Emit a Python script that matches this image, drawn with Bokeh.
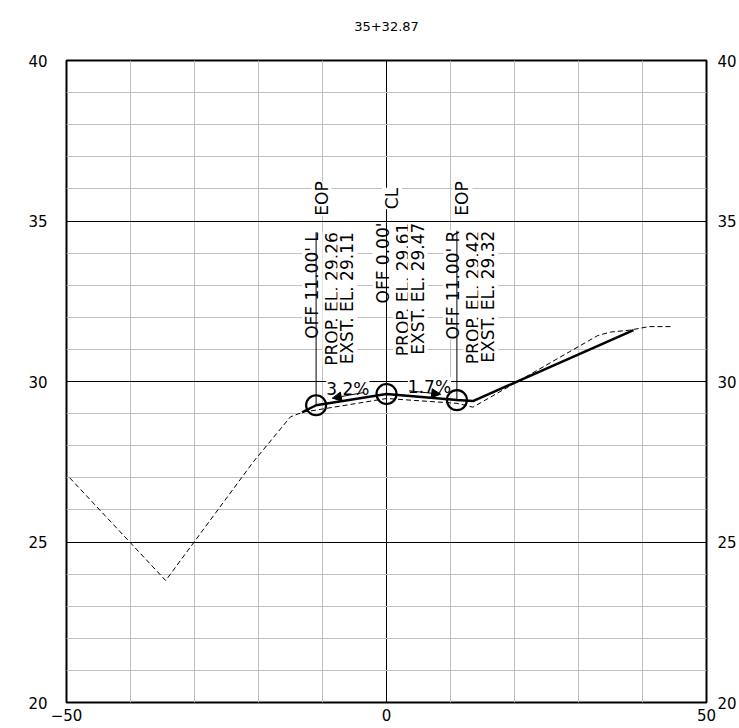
import numpy as np
from bokeh.plotting import figure
from bokeh.models import FixedTicker, LinearAxis, Arrow, NormalHead, Range1d, Title
from bokeh.core.properties import value
from bokeh.embed import file_html
from bokeh.resources import INLINE

# ---------------- data ----------------
title_text = "35+32.87"
x_ticks = [-50, 0, 50]
x_minor = [-40, -30, -20, -10, 10, 20, 30, 40]
y_ticks = [20, 25, 30, 35, 40]
y_minor = [v for v in range(21, 40) if v % 5 != 0]

# existing ground (dashed)
exg_x = [-49.5, -34.5, -20.8, -15.0, -13.0, -11.0, 0.0, 11.0, 13.5, 33.0, 35.0, 38.0, 41.0, 44.5]
exg_y = [27.0, 23.8, 27.5, 28.9, 29.05, 29.11, 29.47, 29.32, 29.2, 31.43, 31.54, 31.6, 31.71, 31.71]

# proposed section (solid)
prop_x = [-13.2, -11.0, 0.0, 11.0, 13.5, 38.6]
prop_y = [29.04, 29.26, 29.61, 29.42, 29.39, 31.6]

# labelled stations
sta_names = ["EOP", "CL", "EOP"]
sta_off = [-11.0, 0.0, 11.0]
sta_side = ["L", "", "R"]
sta_prop = [29.26, 29.61, 29.42]
sta_exst = [29.11, 29.47, 29.32]

# ---------------- style / layout ----------------
FONT = value("DejaVu Sans")
PX = 100.0 / 644.0          # data units per screen px (x)
label_top = [34.65, 34.95, 34.70]
name_y = 35.7
slope_frac = [0.55, 0.61]
GRID_GRAY = "#c0c0c0"
FS = "17px"

p = figure(width=739, height=726, x_range=Range1d(-50, 50), y_range=Range1d(20, 40),
           output_backend="svg", toolbar_location=None, title=None,
           min_border_left=66, min_border_right=29, min_border_top=60, min_border_bottom=24)
p.background_fill_color = "white"
p.border_fill_color = "white"
p.outline_line_color = "black"
p.outline_line_width = 2

# spacer between frame and title, then the title itself (further out)
p.add_layout(Title(text=" ", text_font_size="13px", standoff=13), "above")
p.add_layout(Title(text=title_text, align="center", vertical_align="bottom", standoff=0,
                   text_font="DejaVu Sans", text_font_size="13px", text_font_style="normal",
                   text_color="black"), "above")

xt = FixedTicker(ticks=x_ticks, minor_ticks=x_minor)
yt = FixedTicker(ticks=y_ticks, minor_ticks=y_minor)
p.xaxis.ticker = xt
p.yaxis.ticker = yt
p.xgrid.ticker = xt
p.ygrid.ticker = yt
for g in (p.xgrid, p.ygrid):
    g.grid_line_color = "black"
    g.grid_line_width = 1
    g.minor_grid_line_color = GRID_GRAY
    g.minor_grid_line_width = 1

raxis = LinearAxis(ticker=FixedTicker(ticks=y_ticks))
p.add_layout(raxis, "right")

for ax in [p.xaxis[0], p.yaxis[0], raxis]:
    ax.axis_line_color = None
    ax.major_tick_line_color = None
    ax.minor_tick_line_color = None
    ax.major_tick_out = 0
    ax.major_tick_in = 0
    ax.minor_tick_out = 0
    ax.minor_tick_in = 0
    ax.major_label_text_font = "DejaVu Sans"
    ax.major_label_text_font_size = "15px"
    ax.major_label_text_color = "black"
p.xaxis.major_label_standoff = 6
p.yaxis[0].major_label_standoff = 19
raxis.major_label_standoff = 11

# ---------------- labels (text glyphs under the lines) ----------------
off_txt = [("OFF %.2f' %s" % (abs(o), s)).strip() for o, s in zip(sta_off, sta_side)]
prop_txt = ["PROP. EL. %.2f" % v for v in sta_prop]
exst_txt = ["EXST. EL. %.2f" % v for v in sta_exst]

common = dict(angle=np.pi / 2, text_font=FONT, text_font_size=value(FS),
              text_color="black", background_fill_color="white")

p.text(x=[o + 5.5 * PX for o in sta_off], y=[name_y] * 3, text=sta_names,
       text_align="center", text_baseline="alphabetic", **common)
p.text(x=[o - 4 * PX for o in sta_off], y=label_top, text=off_txt,
       text_align="right", text_baseline="alphabetic", **common)
p.text(x=[o + 16.5 * PX for o in sta_off], y=label_top, text=prop_txt,
       text_align="right", text_baseline="alphabetic", **common)
p.text(x=[o + 31.5 * PX for o in sta_off], y=label_top, text=exst_txt,
       text_align="right", text_baseline="alphabetic", **common)

# slope labels and arrows
sl_x, sl_y, sl_t = [], [], []
arrows = []
for i, (a, b) in enumerate([(1, 0), (1, 2)]):
    xa, ya, xb, yb = sta_off[a], sta_prop[a], sta_off[b], sta_prop[b]
    slope = abs((yb - ya) / (xb - xa)) * 100
    f = slope_frac[i]
    sl_x.append(xa + f * (xb - xa))
    sl_y.append(ya + f * (yb - ya) + 0.34)
    sl_t.append("%.1f%%" % slope)
    f0, f1 = 0.32, 0.77
    arrows.append((xa + f0 * (xb - xa), ya + f0 * (yb - ya) + 0.16,
                   xa + f1 * (xb - xa), ya + f1 * (yb - ya) + 0.14))

p.text(x=sl_x, y=sl_y, text=sl_t, text_align="center", text_baseline="alphabetic",
       text_font=FONT, text_font_size=value(FS), text_color="black",
       background_fill_color="white")

# ---------------- lines ----------------
p.segment(x0=sta_off, y0=sta_prop, x1=sta_off, y1=label_top, line_color="black", line_width=1)
p.line(exg_x, exg_y, line_color="black", line_width=1, line_dash="5 3")
p.line(prop_x, prop_y, line_color="black", line_width=2.5)
p.scatter(sta_off, sta_prop, marker="circle", size=20, fill_color=None,
          line_color="black", line_width=2.2)

for (x0, y0, x1, y1) in arrows:
    p.add_layout(Arrow(x_start=x0, y_start=y0, x_end=x1, y_end=y1, line_color="black",
                       line_width=1,
                       end=NormalHead(size=9, fill_color="black", line_color="black", line_width=1)))

open("out.html", "w").write(file_html(p, INLINE))
